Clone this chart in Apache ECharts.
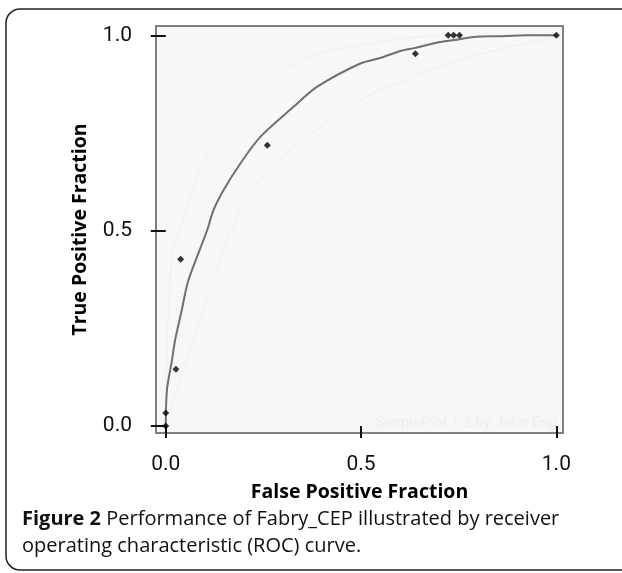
<!DOCTYPE html>
<html lang="en">
<head>
    <meta charset="utf-8">
    <title>ROC curve</title>
    <style>
        html, body { margin: 0; padding: 0; background: #fff; }
        #main { width: 622px; height: 573px; }
    </style>
</head>
<body>
    <div id="main"></div>
    <script src="https://cdn.jsdelivr.net/npm/echarts@6/dist/echarts.min.js"></script>
    <script>
    // fitted ROC curve
    var curveX = [0, 0.003, 0.016, 0.024, 0.041, 0.058, 0.106, 0.122, 0.148, 0.191, 0.242, 0.327, 0.387, 0.498, 0.549, 0.601, 0.639, 0.703, 0.746, 0.788, 0.852, 0.925, 1.0];
    var curveY = [0, 0.092, 0.169, 0.22, 0.297, 0.373, 0.501, 0.552, 0.604, 0.672, 0.74, 0.817, 0.868, 0.928, 0.942, 0.96, 0.968, 0.983, 0.989, 0.996, 0.998, 1.0, 1.0];

    // observed operating points
    var pointX = [0, 0, 0.026, 0.038, 0.26, 0.639, 0.723, 0.737, 0.752, 1.0];
    var pointY = [0, 0.033, 0.145, 0.427, 0.719, 0.953, 1.0, 1.0, 1.0, 1.0];

    // faint confidence bands
    var upperX = [0, 0.013, 0.037, 0.088, 0.157, 0.242, 0.37, 0.498, 0.6, 0.7];
    var upperY = [0, 0.407, 0.501, 0.655, 0.765, 0.868, 0.944, 0.974, 0.99, 1.0];
    var lowerX = [0, 0.054, 0.114, 0.182, 0.234, 0.31, 0.396, 0.498, 0.6, 0.75, 0.9, 1.0];
    var lowerY = [0, 0.169, 0.34, 0.535, 0.621, 0.698, 0.765, 0.834, 0.88, 0.935, 0.975, 0.995];

    var tickValues = [0, 0.5, 1];

    function pairs(xs, ys) {
        var out = [];
        for (var i = 0; i < xs.length; i++) out.push([xs[i], ys[i]]);
        return out;
    }

    var chart = echarts.init(document.getElementById('main'));

    var tickFont = {
        fontFamily: "Roboto, 'Liberation Sans', sans-serif",
        fontSize: 21,
        color: '#111'
    };
    var titleFont = {
        fontFamily: "'Open Sans', 'Noto Sans', sans-serif",
        fontWeight: 'bold',
        fontSize: 19.5,
        color: '#000'
    };
    var captionFont = "'Open Sans', 'Noto Sans', sans-serif";

    var option = {
        animation: false,
        backgroundColor: '#fff',
        grid: {
            left: 156, top: 26, width: 407, height: 407,
            show: true,
            backgroundColor: '#f7f7f7',
            borderColor: '#808080',
            borderWidth: 2
        },
        xAxis: {
            type: 'value',
            min: -0.025, max: 1.017,
            offset: 4,
            splitLine: { show: false },
            axisLine: { show: false },
            axisTick: {
                show: true, length: 12, customValues: tickValues,
                lineStyle: { color: '#111', width: 2 }
            },
            axisLabel: Object.assign({
                customValues: tickValues, margin: 17,
                formatter: function (v) { return v.toFixed(1); }
            }, tickFont),
            name: 'False Positive Fraction',
            nameLocation: 'middle',
            nameGap: 45,
            nameTextStyle: titleFont
        },
        yAxis: {
            type: 'value',
            min: -0.018, max: 1.024,
            offset: 4,
            splitLine: { show: false },
            axisLine: { show: false },
            axisTick: {
                show: true, length: 15, customValues: tickValues,
                lineStyle: { color: '#111', width: 2 }
            },
            axisLabel: Object.assign({
                customValues: tickValues, margin: 20,
                formatter: function (v) { return v.toFixed(1); }
            }, tickFont),
            name: 'True Positive Fraction',
            nameLocation: 'middle',
            nameGap: 62,
            nameTextStyle: titleFont
        },
        graphic: [
            {
                type: 'rect',
                shape: { x: 6, y: 9, width: 660, height: 561, r: 14 },
                style: { fill: 'none', stroke: '#222', lineWidth: 1.5 },
                z: 100
            },
            {
                type: 'text',
                x: 557, y: 423,
                style: {
                    text: 'SimplePlot 1.2 by John Eng',
                    align: 'right', verticalAlign: 'middle',
                    fontFamily: "Roboto, sans-serif",
                    fontSize: 15, fill: '#eeeeee'
                }
            },
            {
                type: 'text',
                x: 22, y: 519,
                style: {
                    text: '{b|Figure 2} Performance of Fabry_CEP illustrated by receiver',
                    verticalAlign: 'middle',
                    fontFamily: captionFont,
                    fontSize: 20, fill: '#111',
                    rich: { b: { fontWeight: 'bold', fontSize: 20, fontFamily: captionFont, fill: '#111' } }
                }
            },
            {
                type: 'text',
                x: 22, y: 546,
                style: {
                    text: 'operating characteristic (ROC) curve.',
                    verticalAlign: 'middle',
                    fontFamily: captionFont,
                    fontSize: 20, fill: '#111'
                }
            }
        ],
        series: [
            {
                name: 'upper', type: 'line', data: pairs(upperX, upperY),
                smooth: true, symbol: 'none', silent: true,
                lineStyle: { color: '#efefef', width: 1 }
            },
            {
                name: 'lower', type: 'line', data: pairs(lowerX, lowerY),
                smooth: true, symbol: 'none', silent: true,
                lineStyle: { color: '#efefef', width: 1 }
            },
            {
                name: 'ROC', type: 'line', data: pairs(curveX, curveY),
                symbol: 'none', smooth: 0.3,
                lineStyle: { color: '#707070', width: 2 }
            },
            {
                name: 'points', type: 'scatter', data: pairs(pointX, pointY),
                symbol: 'diamond', symbolSize: 7,
                itemStyle: { color: '#000' },
                z: 5
            }
        ]
    };

    chart.setOption(option);
    </script>
</body>
</html>
